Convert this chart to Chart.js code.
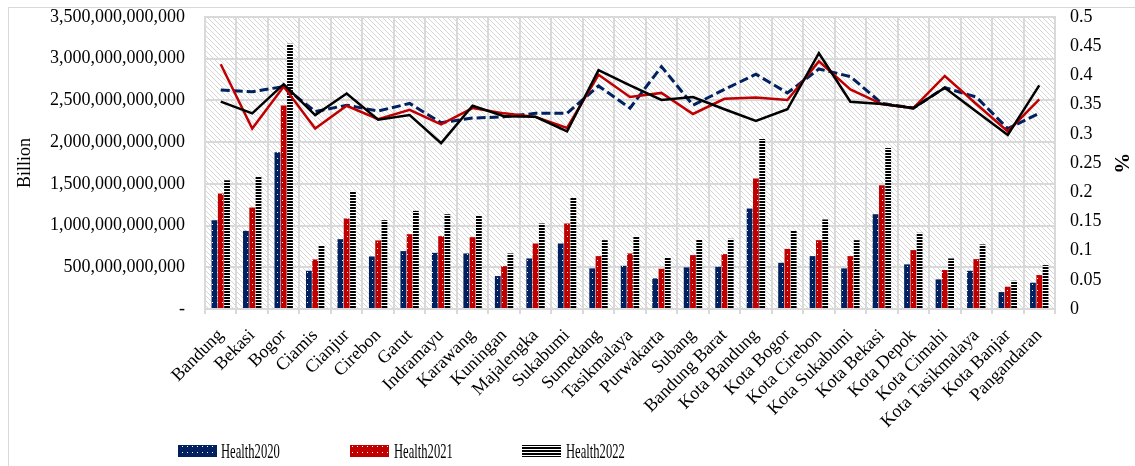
<!DOCTYPE html>
<html>
<head>
<meta charset="utf-8">
<script src="https://cdn.jsdelivr.net/npm/chart.js@4"></script>
<style>
  html, body { margin: 0; padding: 0; background: #fff; }
  #wrap { width: 1135px; height: 466px; position: relative; }
</style>
</head>
<body>
<div id="wrap"><canvas id="chart" width="1135" height="466"></canvas></div>
<script>
// West Java regencies / cities
const categories = ['Bandung', 'Bekasi', 'Bogor', 'Ciamis', 'Cianjur', 'Cirebon', 'Garut', 'Indramayu',
  'Karawang', 'Kuningan', 'Majalengka', 'Sukabumi', 'Sumedang', 'Tasikmalaya', 'Purwakarta', 'Subang',
  'Bandung Barat', 'Kota Bandung', 'Kota Bogor', 'Kota Cirebon', 'Kota Sukabumi', 'Kota Bekasi',
  'Kota Depok', 'Kota Cimahi', 'Kota Tasikmalaya', 'Kota Banjar', 'Pangandaran'];

// health spending, in billions (left axis)
const health2020 = [1064, 937, 1878, 458, 837, 630, 694, 673, 666, 395, 606, 785, 487, 518, 367, 499, 506, 1204, 554, 634, 487, 1136, 535, 355, 458, 203, 315];
const health2021 = [1384, 1216, 2440, 594, 1085, 822, 897, 873, 861, 514, 785, 1025, 634, 666, 482, 646, 658, 1563, 721, 825, 634, 1483, 706, 467, 598, 267, 407];
const health2022 = [1543, 1583, 3178, 766, 1415, 1065, 1176, 1136, 1124, 666, 1025, 1331, 825, 873, 618, 834, 841, 2037, 937, 1073, 825, 1930, 913, 606, 774, 339, 526];

// share, right axis (%)
const share2020 = [0.375, 0.372, 0.381, 0.338, 0.349, 0.339, 0.352, 0.319, 0.327, 0.329, 0.335, 0.335, 0.382, 0.344, 0.415, 0.349, 0.376, 0.402, 0.370, 0.411, 0.398, 0.352, 0.344, 0.379, 0.363, 0.309, 0.335];
const share2021 = [0.419, 0.309, 0.381, 0.309, 0.348, 0.325, 0.341, 0.316, 0.344, 0.335, 0.329, 0.310, 0.401, 0.363, 0.370, 0.334, 0.360, 0.362, 0.358, 0.424, 0.376, 0.351, 0.344, 0.399, 0.351, 0.304, 0.359];
const share2022 = [0.355, 0.335, 0.385, 0.332, 0.369, 0.324, 0.332, 0.284, 0.348, 0.330, 0.329, 0.304, 0.409, 0.383, 0.358, 0.363, 0.342, 0.322, 0.342, 0.438, 0.355, 0.351, 0.344, 0.379, 0.338, 0.298, 0.383];

const leftMax = 3500, leftStep = 500;
const rightMax = 0.5, rightStep = 0.05;

const NAVY = '#002060';
const RED = '#c00000';
const GRID = '#d9d9d9';
const SERIF = "'Liberation Serif', 'Times New Roman', serif";

// fill patterns
function dotPattern(color) {
  const c = document.createElement('canvas');
  c.width = 5; c.height = 6;
  const g = c.getContext('2d');
  g.fillStyle = color;
  g.fillRect(0, 0, 5, 6);
  g.fillStyle = '#fff';
  g.fillRect(2, 2, 1, 1);
  return g.createPattern(c, 'repeat');
}
function stripePattern() {
  const c = document.createElement('canvas');
  c.width = 4; c.height = 3;
  const g = c.getContext('2d');
  g.fillStyle = '#fff';
  g.fillRect(0, 0, 4, 3);
  g.fillStyle = '#000';
  g.fillRect(0, 0, 4, 2);
  return g.createPattern(c, 'repeat');
}
function hatchPattern() {
  const s = 5;
  const c = document.createElement('canvas');
  c.width = s; c.height = s;
  const g = c.getContext('2d');
  g.strokeStyle = '#d6d6d6';
  g.lineWidth = 1;
  g.beginPath();
  g.moveTo(0, 0); g.lineTo(s, s);
  g.moveTo(-1, s - 1); g.lineTo(1, s + 1);
  g.moveTo(s - 1, -1); g.lineTo(s + 1, 1);
  g.stroke();
  return g.createPattern(c, 'repeat');
}

const fill2020 = dotPattern(NAVY);
const fill2021 = dotPattern(RED);
const fill2022 = stripePattern();
const hatch = hatchPattern();

const backgroundPlugin = {
  id: 'hatchBg',
  beforeDraw(chart) {
    const { ctx, chartArea: a } = chart;
    ctx.save();
    ctx.fillStyle = '#fff';
    ctx.fillRect(0, 0, chart.width, chart.height);
    ctx.fillStyle = hatch;
    ctx.fillRect(a.left, a.top, a.right - a.left, a.bottom - a.top);
    ctx.restore();
  },
  afterDraw(chart) {
    const ctx = chart.ctx;
    ctx.save();
    // outer frame
    ctx.strokeStyle = GRID;
    ctx.lineWidth = 1;
    ctx.strokeRect(8.5, 7.5, chart.width + 10, chart.height + 10);

    // legend (bar series only)
    const items = [
      { text: 'Health2020', fill: fill2020, x: 178, tx: 221 },
      { text: 'Health2021', fill: fill2021, x: 350, tx: 394 },
      { text: 'Health2022', fill: fill2022, x: 522, tx: 566 }
    ];
    ctx.font = '21px ' + SERIF;
    ctx.textBaseline = 'middle';
    items.forEach(it => {
      ctx.fillStyle = it.fill;
      ctx.fillRect(it.x, 445, 39, 12);
      ctx.save();
      ctx.translate(it.tx, 452);
      ctx.scale(0.6, 1);
      ctx.fillStyle = '#000';
      ctx.fillText(it.text, 0, 0);
      ctx.restore();
    });
    ctx.restore();
  }
};

function withCommas(v) {
  if (v === 0) return '-';
  return (v * 1e9).toLocaleString('en-US');
}

new Chart(document.getElementById('chart'), {
  type: 'bar',
  data: {
    labels: categories,
    datasets: [
      { type: 'line', label: 'Share2022', data: share2022, yAxisID: 'y1', order: 1,
        borderColor: '#000', borderWidth: 2.5, pointRadius: 0, tension: 0 },
      { type: 'line', label: 'Share2021', data: share2021, yAxisID: 'y1', order: 2,
        borderColor: RED, borderWidth: 2.5, pointRadius: 0, tension: 0 },
      { type: 'line', label: 'Share2020', data: share2020, yAxisID: 'y1', order: 3,
        borderColor: NAVY, borderWidth: 3, borderDash: [9, 4], pointRadius: 0, tension: 0 },
      { label: 'Health2020', data: health2020, yAxisID: 'y', order: 4, backgroundColor: fill2020 },
      { label: 'Health2021', data: health2021, yAxisID: 'y', order: 4, backgroundColor: fill2021 },
      { label: 'Health2022', data: health2022, yAxisID: 'y', order: 4, backgroundColor: fill2022 }
    ]
  },
  options: {
    responsive: false,
    animation: false,
    events: [],
    datasets: {
      bar: { categoryPercentage: 0.6, barPercentage: 0.92 }
    },
    layout: { padding: { top: 17, left: 0, right: 0, bottom: 0 } },
    plugins: {
      legend: { display: false },
      tooltip: { enabled: false }
    },
    scales: {
      x: {
        afterFit: s => { s.height = 157; },
        grid: { color: GRID, lineWidth: 2, offset: true, tickLength: 5, tickColor: GRID },
        border: { color: GRID, width: 2 },
        ticks: {
          autoSkip: false, minRotation: 45, maxRotation: 45, padding: 11,
          color: '#000', font: { family: SERIF, size: 18 }
        }
      },
      y: {
        position: 'left',
        min: 0, max: leftMax,
        afterFit: s => { s.width = 205; },
        grid: { color: GRID, lineWidth: 2, drawTicks: true, tickLength: 18, tickColor: 'rgba(0,0,0,0)' },
        border: { color: GRID, width: 2 },
        ticks: {
          stepSize: leftStep, padding: 2, color: '#000',
          font: { family: SERIF, size: 18 },
          callback: v => withCommas(v)
        },
        title: {
          display: true, text: 'Billion', color: '#000',
          font: { family: SERIF, size: 18 }, padding: { top: 14, bottom: 0 }
        }
      },
      y1: {
        position: 'right',
        min: 0, max: rightMax,
        afterFit: s => { s.width = 80; },
        grid: { drawOnChartArea: false, drawTicks: true, tickLength: 13, tickColor: 'rgba(0,0,0,0)', color: 'rgba(0,0,0,0)' },
        border: { color: GRID, width: 2 },
        ticks: {
          stepSize: rightStep, padding: 2, color: '#000',
          font: { family: SERIF, size: 18 },
          callback: v => String(Math.round(v * 100) / 100)
        },
        title: {
          display: true, text: '%', color: '#000',
          font: { family: SERIF, size: 21, weight: 'bold' }, padding: { top: 2, bottom: 0 }
        }
      }
    }
  },
  plugins: [backgroundPlugin]
});
</script>
</body>
</html>
